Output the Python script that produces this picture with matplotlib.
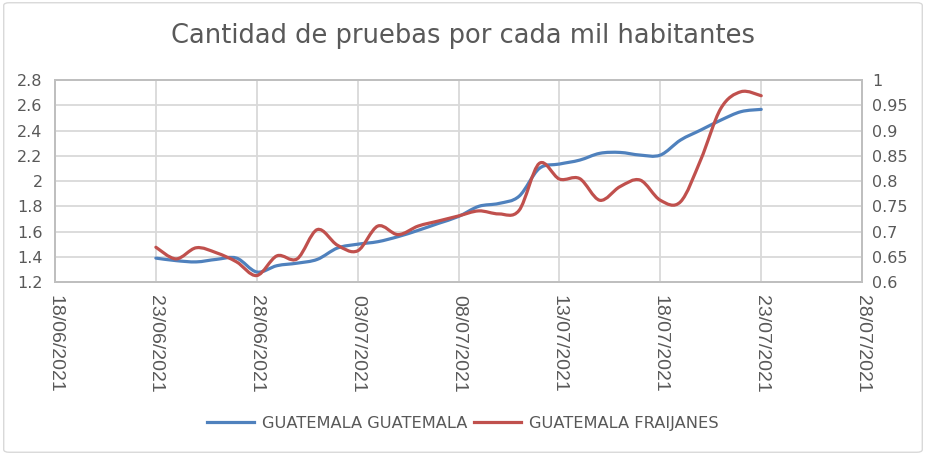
import matplotlib
matplotlib.use('Agg')
import matplotlib.pyplot as plt
import matplotlib.dates as mdates
from matplotlib.path import Path
from matplotlib.patches import PathPatch, FancyBboxPatch
from matplotlib.lines import Line2D
import numpy as np
import datetime as dt

# daily data 23/06/2021 .. 23/07/2021
start = dt.date(2021, 6, 23)
dates = [start + dt.timedelta(days=i) for i in range(31)]

guatemala = [1.39, 1.37, 1.36, 1.38, 1.39, 1.28, 1.33, 1.35, 1.38, 1.47,
             1.50, 1.52, 1.56, 1.61, 1.665, 1.72, 1.80, 1.823, 1.88, 2.10,
             2.135, 2.166, 2.22, 2.227, 2.206, 2.206, 2.325, 2.404, 2.483, 2.55,
             2.568]
fraijanes = [0.669, 0.646, 0.668, 0.658, 0.640, 0.613, 0.652, 0.646, 0.704, 0.673,
             0.662, 0.711, 0.694, 0.711, 0.721, 0.731, 0.741, 0.735, 0.742, 0.835,
             0.804, 0.805, 0.762, 0.789, 0.802, 0.762, 0.759, 0.842, 0.944, 0.977,
             0.969]

labels = ['GUATEMALA GUATEMALA', 'GUATEMALA FRAIJANES']
blue = '#4F81BD'
red = '#C0504D'
grey = '#595959'


def smooth_path(x, y):
    # Catmull-Rom style bezier, like Excel's smoothed line
    x = np.asarray(x, float)
    y = np.asarray(y, float)
    n = len(x)
    verts = [(x[0], y[0])]
    codes = [Path.MOVETO]
    for i in range(n - 1):
        p0 = i - 1 if i > 0 else i
        p3 = i + 2 if i + 2 < n else i + 1
        c1 = (x[i] + (x[i + 1] - x[p0]) / 6, y[i] + (y[i + 1] - y[p0]) / 6)
        c2 = (x[i + 1] - (x[p3] - x[i]) / 6, y[i + 1] - (y[p3] - y[i]) / 6)
        verts += [c1, c2, (x[i + 1], y[i + 1])]
        codes += [Path.CURVE4] * 3
    return Path(verts, codes)


fig = plt.figure(figsize=(9.26, 4.55), dpi=100)
fig.patches.append(FancyBboxPatch((0.004, 0.006), 0.992, 0.988,
                                  boxstyle='round,pad=0,rounding_size=0.006',
                                  transform=fig.transFigure, fill=False,
                                  edgecolor='#D9D9D9', lw=1))
ax = fig.add_axes([0.0594, 0.380, 0.8716, 0.444])
ax2 = ax.twinx()

xnum = mdates.date2num(dates)
ax.add_patch(PathPatch(smooth_path(xnum, guatemala), fill=False,
                       edgecolor=blue, lw=2.3, capstyle='round', joinstyle='round'))
ax2.add_patch(PathPatch(smooth_path(xnum, fraijanes), fill=False,
                        edgecolor=red, lw=2.3, capstyle='round', joinstyle='round'))

ax.set_xlim(mdates.date2num(dt.date(2021, 6, 18)), mdates.date2num(dt.date(2021, 7, 28)))
ax.set_ylim(1.2, 2.8)
ax2.set_ylim(0.6, 1.0)
ax.set_yticks(np.arange(1.2, 2.81, 0.2))
ax2.set_yticks(np.arange(0.6, 1.001, 0.05))
ax.yaxis.set_major_formatter(plt.FuncFormatter(lambda v, p: '%g' % round(v, 2)))
ax2.yaxis.set_major_formatter(plt.FuncFormatter(lambda v, p: '%g' % round(v, 2)))

xt = [dt.date(2021, 6, 18) + dt.timedelta(days=5 * i) for i in range(9)]
ax.set_xticks(mdates.date2num(xt))
ax.set_xticklabels([d.strftime('%d/%m/%Y') for d in xt], rotation=270,
                   family='Liberation Sans', color=grey)

ax.grid(True, color='#D9D9D9', lw=1.3)
ax.set_axisbelow(True)
for a in (ax, ax2):
    for s in a.spines.values():
        s.set_color('#BFBFBF')
        s.set_linewidth(1.3)
    a.tick_params(length=0, labelsize=11.5, labelcolor=grey)
ax.tick_params(axis='y', pad=9)
ax.tick_params(axis='x', pad=9, labelsize=14)
ax2.tick_params(axis='y', pad=7)

fig.text(0.5, 0.92, 'Cantidad de pruebas por cada mil habitantes',
         ha='center', va='center', fontsize=18.5, color=grey)

handles = [Line2D([], [], color=blue, lw=2.3), Line2D([], [], color=red, lw=2.3)]
fig.legend(handles, labels, loc='center', bbox_to_anchor=(0.5, 0.07), ncol=2,
           frameon=False, fontsize=11.7, handlelength=2.9, columnspacing=0.4,
           handletextpad=0.5, labelcolor=grey)

fig.savefig('out.png', dpi=100)
